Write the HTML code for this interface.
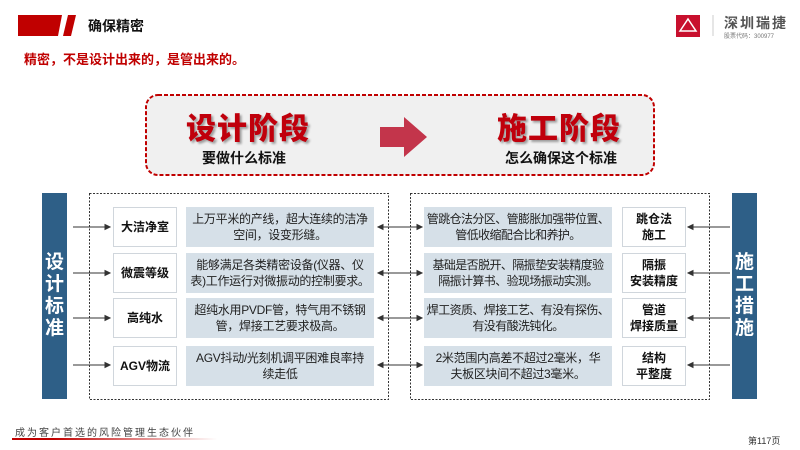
<!DOCTYPE html>
<html><head><meta charset="utf-8"><style>
*{margin:0;padding:0;box-sizing:border-box}
body{width:800px;height:450px;background:#fff;position:relative;overflow:hidden;font-family:"Liberation Sans","Noto Sans CJK SC",sans-serif}
.a{position:absolute}
.lbl{position:absolute;border:1px solid #d0d6dc;background:#fff;display:flex;align-items:center;justify-content:center;text-align:center;font-weight:bold;font-size:12px;line-height:16px;color:#111}
.desc{position:absolute;background:#d6e0e8;display:flex;align-items:center;justify-content:center;text-align:center;font-size:12px;line-height:16px;color:#222;white-space:nowrap;letter-spacing:-0.3px}
.big{font-size:30px;font-weight:900;color:#c0000c;text-shadow:2px 2px 2px rgba(0,0,0,.35);letter-spacing:1px}
.bar{position:absolute;background:#2e5f87;color:#fff;font-weight:bold;font-size:19px;line-height:22px;width:25px;text-align:center;display:flex;align-items:center;justify-content:center}
</style></head><body>
<svg class="a" style="left:0;top:0" width="800" height="450">
<polygon points="18,15 62,15 58,36 18,36" fill="#c00000"/>
<polygon points="68,15 76,15 71,36 63,36" fill="#c00000"/>
<rect x="676" y="15" width="24" height="22" fill="#c8102e"/>
<polygon points="680,31 688,19 696,31" fill="none" stroke="#fff" stroke-width="1.5"/>
<line x1="713" y1="15" x2="713" y2="36" stroke="#ccc"/>
<rect x="146" y="95" width="508" height="80" rx="12" fill="#f0f0f0" stroke="#c00000" stroke-width="2" stroke-dasharray="4,2"/>
<polygon points="380,127 404,127 404,117 427,137 404,157 404,147 380,147" fill="#c3354b"/>
<rect x="89.5" y="193.5" width="299" height="206" fill="none" stroke="#333" stroke-dasharray="2,1.5"/>
<rect x="410.5" y="193.5" width="299" height="206" fill="none" stroke="#333" stroke-dasharray="2,1.5"/>
<g stroke="#333" stroke-width="1" fill="#333">
<line x1="73" y1="227" x2="108" y2="227"/><polygon points="110,227 105,224.5 105,229.5"/>
<line x1="73" y1="273" x2="108" y2="273"/><polygon points="110,273 105,270.5 105,275.5"/>
<line x1="73" y1="318" x2="108" y2="318"/><polygon points="110,318 105,315.5 105,320.5"/>
<line x1="73" y1="365" x2="108" y2="365"/><polygon points="110,365 105,362.5 105,367.5"/>
<line x1="380" y1="227" x2="420" y2="227"/><polygon points="378,227 383,224.5 383,229.5"/><polygon points="422,227 417,224.5 417,229.5"/>
<line x1="380" y1="273" x2="420" y2="273"/><polygon points="378,273 383,270.5 383,275.5"/><polygon points="422,273 417,270.5 417,275.5"/>
<line x1="380" y1="318" x2="420" y2="318"/><polygon points="378,318 383,315.5 383,320.5"/><polygon points="422,318 417,315.5 417,320.5"/>
<line x1="380" y1="365" x2="420" y2="365"/><polygon points="378,365 383,362.5 383,367.5"/><polygon points="422,365 417,362.5 417,367.5"/>
<line x1="690" y1="227" x2="730" y2="227"/><polygon points="688,227 693,224.5 693,229.5"/>
<line x1="690" y1="273" x2="730" y2="273"/><polygon points="688,273 693,270.5 693,275.5"/>
<line x1="690" y1="318" x2="730" y2="318"/><polygon points="688,318 693,315.5 693,320.5"/>
<line x1="690" y1="365" x2="730" y2="365"/><polygon points="688,365 693,362.5 693,367.5"/>
</g>
<defs><linearGradient id="g" x1="0" x2="1"><stop offset="0" stop-color="#c00000"/><stop offset="0.2" stop-color="#c00000"/><stop offset="1" stop-color="#fff"/></linearGradient></defs>
<rect x="12" y="438" width="205" height="2" fill="url(#g)"/>
</svg>
<div class="a" style="left:88px;top:16px;font-size:14px;font-weight:bold;color:#111">确保精密</div>
<div class="a" style="left:24px;top:49px;font-size:13px;font-weight:bold;color:#c00000">精密，不是设计出来的，是管出来的。</div>
<div class="a" style="left:724px;top:13px;font-size:14px;font-weight:bold;color:#555;letter-spacing:2px">深圳瑞捷</div>
<div class="a" style="left:724px;top:31px;font-size:6px;color:#777">股票代码：300977</div>
<div class="a big" style="left:186px;top:104px">设计阶段</div>
<div class="a" style="left:202px;top:148px;font-size:14px;font-weight:bold;color:#111">要做什么标准</div>
<div class="a big" style="left:497px;top:104px">施工阶段</div>
<div class="a" style="left:505px;top:148px;font-size:14px;font-weight:bold;color:#111">怎么确保这个标准</div>
<div class="bar" style="left:42px;top:193px;height:206px">设<br>计<br>标<br>准</div>
<div class="bar" style="left:732px;top:193px;height:206px">施<br>工<br>措<br>施</div>

<div class="lbl" style="left:113px;top:207px;width:64px;height:40px">大洁净室</div>
<div class="lbl" style="left:113px;top:253px;width:64px;height:40px">微震等级</div>
<div class="lbl" style="left:113px;top:298px;width:64px;height:40px">高纯水</div>
<div class="lbl" style="left:113px;top:346px;width:64px;height:40px">AGV物流</div>
<div class="desc" style="left:186px;top:207px;width:188px;height:40px">上万平米的产线，超大连续的洁净<br>空间，设变形缝。</div>
<div class="desc" style="left:186px;top:253px;width:188px;height:40px">能够满足各类精密设备(仪器、仪<br>表)工作运行对微振动的控制要求。</div>
<div class="desc" style="left:186px;top:298px;width:188px;height:40px">超纯水用PVDF管，特气用不锈钢<br>管，焊接工艺要求极高。</div>
<div class="desc" style="left:186px;top:346px;width:188px;height:40px">AGV抖动/光刻机调平困难良率持<br>续走低</div>

<div class="desc" style="left:424px;top:207px;width:188px;height:40px;letter-spacing:-0.6px">管跳仓法分区、管膨胀加强带位置、<br>管低收缩配合比和养护。</div>
<div class="desc" style="left:424px;top:253px;width:188px;height:40px;letter-spacing:-0.6px">基础是否脱开、隔振垫安装精度验<br>隔振计算书、验现场振动实测。</div>
<div class="desc" style="left:424px;top:298px;width:188px;height:40px;letter-spacing:-0.6px">焊工资质、焊接工艺、有没有探伤、<br>有没有酸洗钝化。</div>
<div class="desc" style="left:424px;top:346px;width:188px;height:40px">2米范围内高差不超过2毫米，华<br>夫板区块间不超过3毫米。</div>
<div class="lbl" style="left:622px;top:207px;width:64px;height:40px">跳仓法<br>施工</div>
<div class="lbl" style="left:622px;top:253px;width:64px;height:40px">隔振<br>安装精度</div>
<div class="lbl" style="left:622px;top:298px;width:64px;height:40px">管道<br>焊接质量</div>
<div class="lbl" style="left:622px;top:346px;width:64px;height:40px">结构<br>平整度</div>

<div class="a" style="left:15px;top:424px;font-size:10px;color:#444;letter-spacing:2px">成为客户首选的风险管理生态伙伴</div>
<div class="a" style="left:748px;top:434px;font-size:9px;color:#333">第117页</div>
</body></html>
